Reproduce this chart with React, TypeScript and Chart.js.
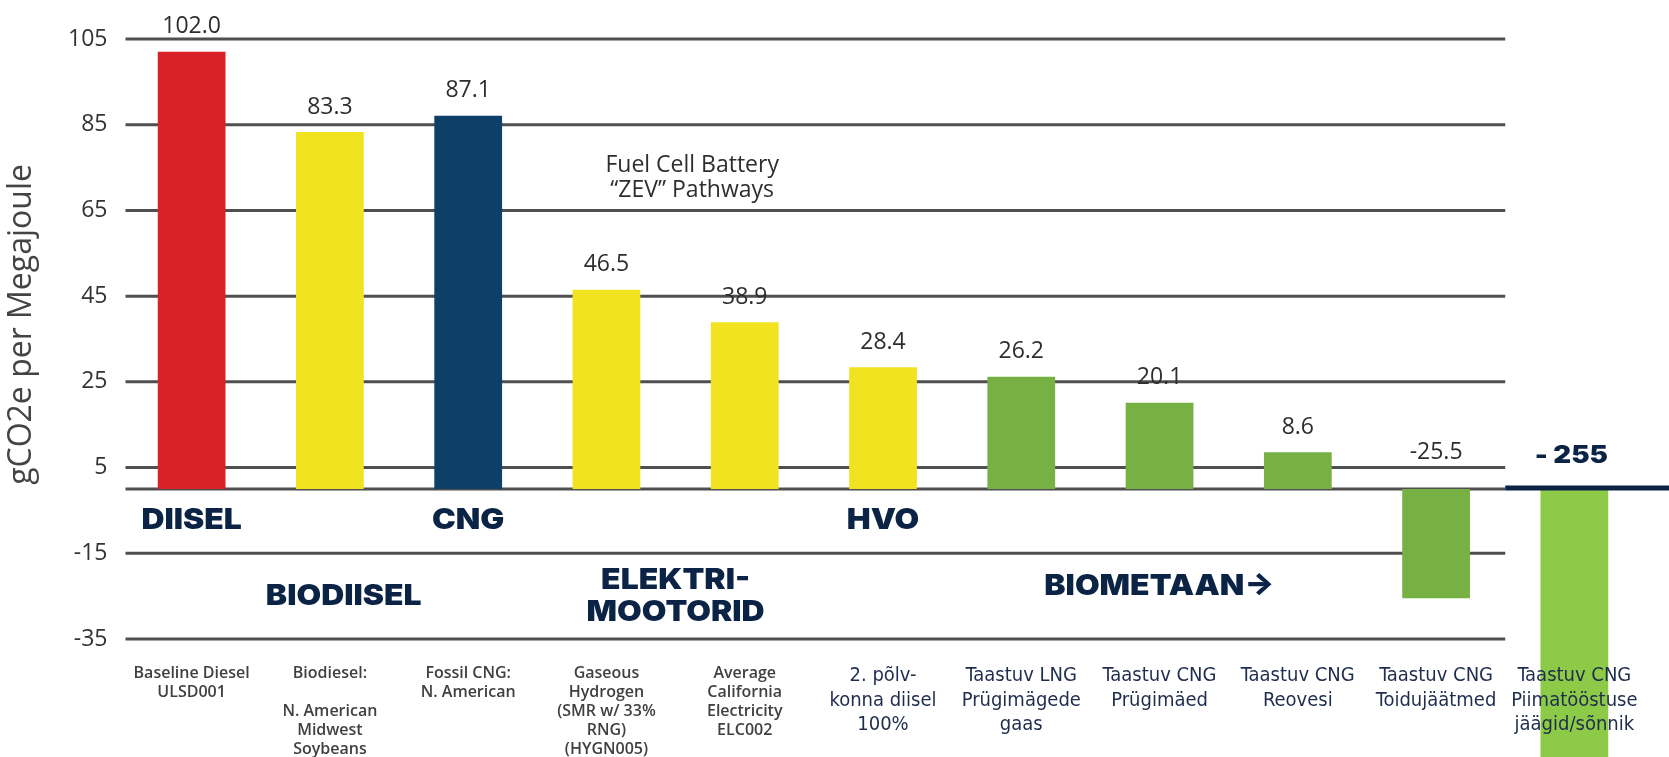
import React, { useEffect, useRef } from 'react';
import { Chart, registerables } from 'chart.js';

Chart.register(...registerables);

// ---------- data ----------
const categories: string[][] = [
  ['Baseline Diesel', 'ULSD001'],
  ['Biodiesel:', '', 'N. American', 'Midwest', 'Soybeans'],
  ['Fossil CNG:', 'N. American'],
  ['Gaseous', 'Hydrogen', '(SMR w/ 33%', 'RNG)', '(HYGN005)'],
  ['Average', 'California', 'Electricity', 'ELC002'],
  ['2. põlv-', 'konna diisel', '100%'],
  ['Taastuv LNG', 'Prügimägede', 'gaas'],
  ['Taastuv CNG', 'Prügimäed'],
  ['Taastuv CNG', 'Reovesi'],
  ['Taastuv CNG', 'Toidujäätmed'],
  ['Taastuv CNG', 'Piimatööstuse', 'jäägid/sõnnik'],
];
const values: number[] = [102.0, 83.3, 87.1, 46.5, 38.9, 28.4, 26.2, 20.1, 8.6, -25.5, -255];
const valueLabels: string[] = ['102.0', '83.3', '87.1', '46.5', '38.9', '28.4', '26.2', '20.1', '8.6', '-25.5', '- 255'];
const barColors: string[] = [
  '#d92128', '#f1e31f', '#0e3f69', '#f1e31f', '#f1e31f', '#f1e31f',
  '#77b143', '#77b143', '#77b143', '#77b143', '#8dca48',
];
const yTicks: number[] = [105, 85, 65, 45, 25, 5, -15, -35];
const yTitle = 'gCO2e per Megajoule';
const groupTexts: string[][] = [
  ['DIISEL'], ['CNG'], ['HVO'], ['BIODIISEL'], ['ELEKTRI-', 'MOOTORID'], ['BIOMETAAN→'],
];
const noteLines: string[] = ['Fuel Cell Battery', '\u201CZEV\u201D Pathways'];

// ---------- layout of overlay texts (category index, y value) ----------
const groupPos = [
  { at: 0, y: -7.2 }, { at: 2, y: -7.2 }, { at: 5, y: -7.2 },
  { at: 1.1, y: -25 }, { at: 3.5, y: -25 }, { at: 7, y: -22.6 },
];
const notePos = { at: 3.62, y: 75.4 };
const titlePos = { x: 22, y: 38.4 }; // y in value units

const NAVY = '#0b2446';
const narrowFamily = "'Liberation Sans Narrow', 'Arial Narrow', 'DejaVu Sans Condensed', Roboto, sans-serif";

function wideText(ctx: any, text: string, x: number, y: number, sx: number) {
  ctx.save();
  ctx.translate(x, y);
  ctx.scale(sx, 1);
  ctx.fillText(text, 0, 0);
  ctx.restore();
}

const overlayPlugin = {
  id: 'overlay',
  beforeDatasetsDraw(chart: any) {
    const { ctx, chartArea, scales } = chart;
    const x = scales.x, y = scales.y;
    const xEnd = (x.getPixelForValue(9) + x.getPixelForValue(10)) / 2;
    ctx.save();
    ctx.strokeStyle = '#4f4f4f';
    ctx.lineWidth = 3;
    for (const v of [...yTicks, 0]) {
      const py = y.getPixelForValue(v);
      ctx.beginPath();
      ctx.moveTo(chartArea.left + 3, py);
      ctx.lineTo(xEnd, py);
      ctx.stroke();
    }
    // axis title
    ctx.save();
    ctx.fillStyle = '#444';
    ctx.font = "32px 'Open Sans'";
    ctx.textAlign = 'center';
    ctx.textBaseline = 'middle';
    ctx.translate(titlePos.x, y.getPixelForValue(titlePos.y));
    ctx.rotate(-Math.PI / 2);
    ctx.fillText(yTitle, 0, 0);
    ctx.restore();
    // note text
    ctx.fillStyle = '#2e2e2e';
    ctx.font = "23px 'Open Sans'";
    ctx.textAlign = 'center';
    ctx.textBaseline = 'middle';
    const nx = x.getPixelForValue(notePos.at);
    const ny = y.getPixelForValue(notePos.y);
    noteLines.forEach((t, i) => ctx.fillText(t, nx, ny + i * 25));
    ctx.restore();
  },
  afterDatasetsDraw(chart: any) {
    const { ctx, scales } = chart;
    const x = scales.x, y = scales.y;
    const meta = chart.getDatasetMeta(0);
    const xEnd = (x.getPixelForValue(9) + x.getPixelForValue(10)) / 2;
    const zero = y.getPixelForValue(0);
    ctx.save();
    // navy separator line
    ctx.strokeStyle = NAVY;
    ctx.lineWidth = 5;
    ctx.beginPath();
    ctx.moveTo(xEnd, zero - 1);
    ctx.lineTo(chart.width, zero - 1);
    ctx.stroke();
    // value labels
    ctx.textAlign = 'center';
    ctx.textBaseline = 'middle';
    meta.data.forEach((bar: any, i: number) => {
      const v = values[i];
      if (i === values.length - 1) {
        ctx.fillStyle = NAVY;
        ctx.font = "900 24px Inter";
        wideText(ctx, valueLabels[i], bar.x - 3, zero - 33, 1.15);
      } else {
        ctx.fillStyle = '#2e2e2e';
        ctx.font = "23px 'Open Sans'";
        const py = v >= 0 ? bar.y - 25 : zero - 37;
        ctx.fillText(valueLabels[i], bar.x, py);
      }
    });
    // group labels
    ctx.fillStyle = NAVY;
    ctx.font = "900 29px Inter";
    groupTexts.forEach((lines, gi) => {
      const gx = x.getPixelForValue(groupPos[gi].at);
      const gy = y.getPixelForValue(groupPos[gi].y);
      const n = lines.length;
      lines.forEach((t, li) => {
        wideText(ctx, t, gx, gy + (li - (n - 1) / 2) * 32, 1.1);
      });
    });
    ctx.restore();
  },
};

export default function App() {
  const ref = useRef<HTMLCanvasElement | null>(null);
  useEffect(() => {
    document.body.style.margin = '0';
    if (!ref.current) return;
    const chart = new Chart(ref.current, {
      type: 'bar',
      data: {
        labels: categories,
        datasets: [
          {
            data: values,
            backgroundColor: barColors,
            borderWidth: 0,
            barPercentage: 0.49,
            categoryPercentage: 1,
            clip: false as any,
          },
        ],
      },
      options: {
        responsive: false,
        animation: false,
        devicePixelRatio: 1,
        layout: { padding: { top: 39, right: 25.5, bottom: 0, left: 0 } },
        plugins: { legend: { display: false }, tooltip: { enabled: false } },
        scales: {
          x: {
            type: 'category',
            offset: true,
            grid: { display: false },
            border: { display: false },
            ticks: {
              z: 1,
              autoSkip: false,
              maxRotation: 0,
              minRotation: 0,
              padding: 17,
              color: (c: any) => (c.index < 5 ? '#404040' : '#1f2d4d'),
              font: (c: any) =>
                c.index < 5
                  ? { family: "'Open Sans'", size: 16, weight: '600', lineHeight: 1.19 }
                  : { family: narrowFamily, size: 20, lineHeight: 1.22 },
            },
            afterFit: (s: any) => {
              s.height = 118;
            },
          } as any,
          y: {
            min: -35,
            max: 105,
            afterBuildTicks: (s: any) => {
              s.ticks = yTicks.map((v) => ({ value: v }));
            },
            grid: { display: false },
            border: { display: false },
            ticks: {
              padding: 7,
              color: '#333',
              font: { family: "'Open Sans'", size: 23 },
            },
            afterFit: (s: any) => {
              s.width = 122.5;
            },
          } as any,
        },
      },
      plugins: [overlayPlugin],
    });
    return () => chart.destroy();
  }, []);
  return (
    <div style={{ width: 1669, height: 757, background: '#fff' }}>
      <canvas ref={ref} width={1669} height={757} />
    </div>
  );
}
